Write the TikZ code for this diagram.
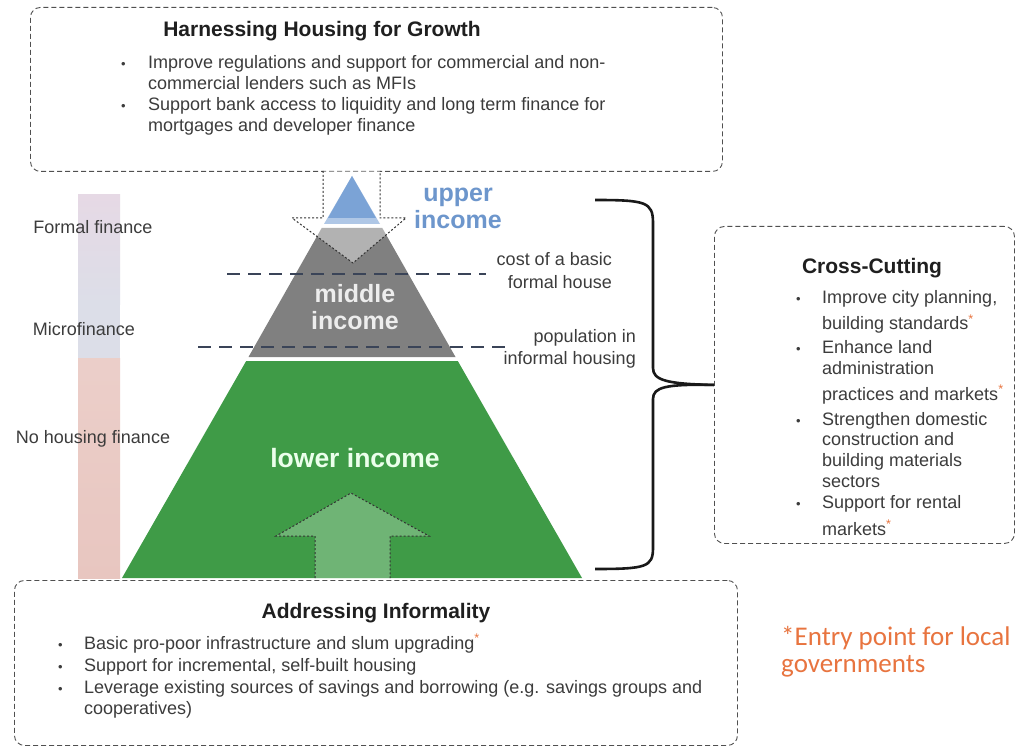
\documentclass[tikz,border=0pt]{standalone}
\usepackage{fontspec}
\setmainfont{Liberation Sans}
\newfontfamily\entryfont{Carlito}
\definecolor{pyrblue}{HTML}{7BA3D6}
\definecolor{pyrgray}{HTML}{808080}
\definecolor{pyrgreen}{HTML}{3F9B47}
\definecolor{uptext}{HTML}{6D96CC}
\definecolor{txtgray}{HTML}{3C3C3C}
\definecolor{boxline}{HTML}{505050}
\definecolor{lvlline}{HTML}{3A4458}
\definecolor{entry}{HTML}{E8743F}
\definecolor{barpink}{HTML}{E8C6C0}
\definecolor{barlav}{HTML}{E6D9E5}
\definecolor{barblue}{HTML}{DCDEE8}
\newcommand{\entrystar}{\textsuperscript{\textcolor{entry}{*}}}
\tikzset{
  panel/.style={draw=boxline, line width=0.9pt, dash pattern=on 5pt off 3pt, rounded corners=10pt, inner sep=0pt, anchor=north west},
  ttl/.style={font=\fontsize{21}{24}\selectfont\bfseries, text=black!88, inner sep=0pt},
  bul/.style={font=\fontsize{18}{20}\selectfont, text=txtgray, inner sep=0pt, anchor=base west},
  dot/.style={font=\fontsize{13}{15}\selectfont, text=txtgray, inner sep=0pt, anchor=base west},
  lvl/.style={draw=lvlline, line width=2.4pt, dash pattern=on 13pt off 8pt},
  lvltxt/.style={font=\fontsize{18}{20}\selectfont, text=txtgray, inner sep=0pt, anchor=base east},
  bartxt/.style={font=\fontsize{18}{20}\selectfont, text=txtgray, inner sep=0pt},
  band/.style={font=\fontsize{25}{27}\selectfont\bfseries, inner sep=0pt, align=center},
  blockarrow/.style={draw=black!80, line width=1pt, dash pattern=on 2pt off 2pt},
  entrytxt/.style={font=\entryfont\fontsize{27}{30}\selectfont, text=entry, inner sep=0pt, anchor=base west}
}
\begin{document}
\begin{tikzpicture}[x=1pt,y=-1pt]
\useasboundingbox[fill=white] (0,0) rectangle (1018,746);

% finance bar
\shade[top color=barlav, bottom color=barblue] (78,195) rectangle (120,305);
\fill[barblue] (78,305) rectangle (120,358);
\shade[top color=barpink!85!white, bottom color=barpink] (78,358) rectangle (120,578);
\node[bartxt] (ff) at (93,227) {Formal finance};
\node[bartxt] (mf) at (84,329) {Microfinance};
\node[bartxt] (nf) at (93,439) {No housing finance};

% pyramid
\fill[pyrblue] (352,176) -- (324,224) -- (380,224) -- cycle;
\fill[pyrgray] (321.7,228) -- (382.3,228) -- (455.5,357) -- (248.5,357) -- cycle;
\fill[pyrgreen] (246.2,361) -- (457.8,361) -- (582,578) -- (122,578) -- cycle;

% income levels
\draw[lvl] (227,274) -- (486,274);
\draw[lvl] (198,347) -- (510,347);
\node[lvltxt] (c1) at (612,266) {cost of a basic};
\node[lvltxt] (c2) at (612,288) {formal house};
\node[lvltxt] (p1) at (636,342) {population in};
\node[lvltxt] (p2) at (636,364) {informal housing};

% top box
\node[panel, minimum width=692pt, minimum height=164pt] (growth) at (30,7) {};
\node[ttl] (gt) at (322,31) {Harnessing Housing for Growth};
\node[dot] (gd1) at (121,69) {\textbullet};
\node[bul] (g1) at (148,69) {Improve regulations and support for commercial and non-};
\node[bul] (g2) at (148,90) {commercial lenders such as MFIs};
\node[dot] (gd2) at (121,111) {\textbullet};
\node[bul] (g3) at (148,111) {Support bank access to liquidity and long term finance for};
\node[bul] (g4) at (148,132) {mortgages and developer finance};

% downward arrow from top box
\draw[blockarrow, fill=white, fill opacity=0.4] (323,171) -- (323,218) -- (292,218) -- (353,263) -- (406,218) -- (380,218) -- (380,171);
\fill[pyrblue] (352,176) -- (328,218) -- (376,218) -- cycle;

% band labels
\node[band, text=uptext] (up) at (458,208) {upper\\income};
\node[band, text=black!7] (mid) at (355,307) {middle\\income};
\node[band, text=green!8!white, font=\fontsize{26.5}{28}\selectfont\bfseries] (low) at (355,458) {lower income};

% upward arrow
\draw[blockarrow, fill=white, fill opacity=0.25] (315,578) -- (315,536) -- (276,536) -- (351,493) -- (429,536) -- (390,536) -- (390,578);

% bottom box
\node[panel, minimum width=723pt, minimum height=165pt] (inform) at (14,580) {};
\node[ttl] (it) at (376,613) {Addressing Informality};
\node[dot] (id1) at (58,649) {\textbullet};
\node[bul] (i1) at (84,649) {Basic pro-poor infrastructure and slum upgrading\entrystar};
\node[dot] (id2) at (58,671) {\textbullet};
\node[bul] (i2) at (84,671) {Support for incremental, self-built housing};
\node[dot] (id3) at (58,693) {\textbullet};
\node[bul] (i3) at (84,693) {Leverage existing sources of savings and borrowing (e.g. savings groups and};
\node[bul] (i4) at (84,714) {cooperatives)};

% cross-cutting box
\node[panel, minimum width=300pt, minimum height=317pt] (cross) at (714,226) {};
\node[ttl] (ct) at (872,268) {Cross-Cutting};
\node[dot] (cd1) at (796,304) {\textbullet};
\node[bul] (x1) at (822,304) {Improve city planning,};
\node[bul] (x2) at (822,330) {building standards\entrystar};
\node[dot] (cd2) at (796,353) {\textbullet};
\node[bul] (x3) at (822,353) {Enhance land};
\node[bul] (x4) at (822,374) {administration};
\node[bul] (x5) at (822,400) {practices and markets\entrystar};
\node[dot] (cd3) at (796,425) {\textbullet};
\node[bul] (x6) at (822,425) {Strengthen domestic};
\node[bul] (x7) at (822,445) {construction and};
\node[bul] (x8) at (822,466) {building materials};
\node[bul] (x9) at (822,487) {sectors};
\node[dot] (cd4) at (796,508) {\textbullet};
\node[bul] (x10) at (822,508) {Support for rental};
\node[bul] (x11) at (822,535) {markets\entrystar};

% brace towards cross-cutting box
\coordinate (btip) at (cross.west);
\draw[line width=2.6pt, black!90] (595,200) .. controls (646,200) and (653,202) .. (653,223) -- (653,368) .. controls (653,380) and (666,384) .. (btip);
\draw[line width=2.6pt, black!90] (btip) .. controls (666,384) and (653,387) .. (653,399) -- (653,548) .. controls (653,567) and (646,569) .. (595,569);

% entry point note
\node[entrytxt] (e1) at (781,645) {*Entry point for local};
\node[entrytxt] (e2) at (781,672) {governments};
\end{tikzpicture}
\end{document}
